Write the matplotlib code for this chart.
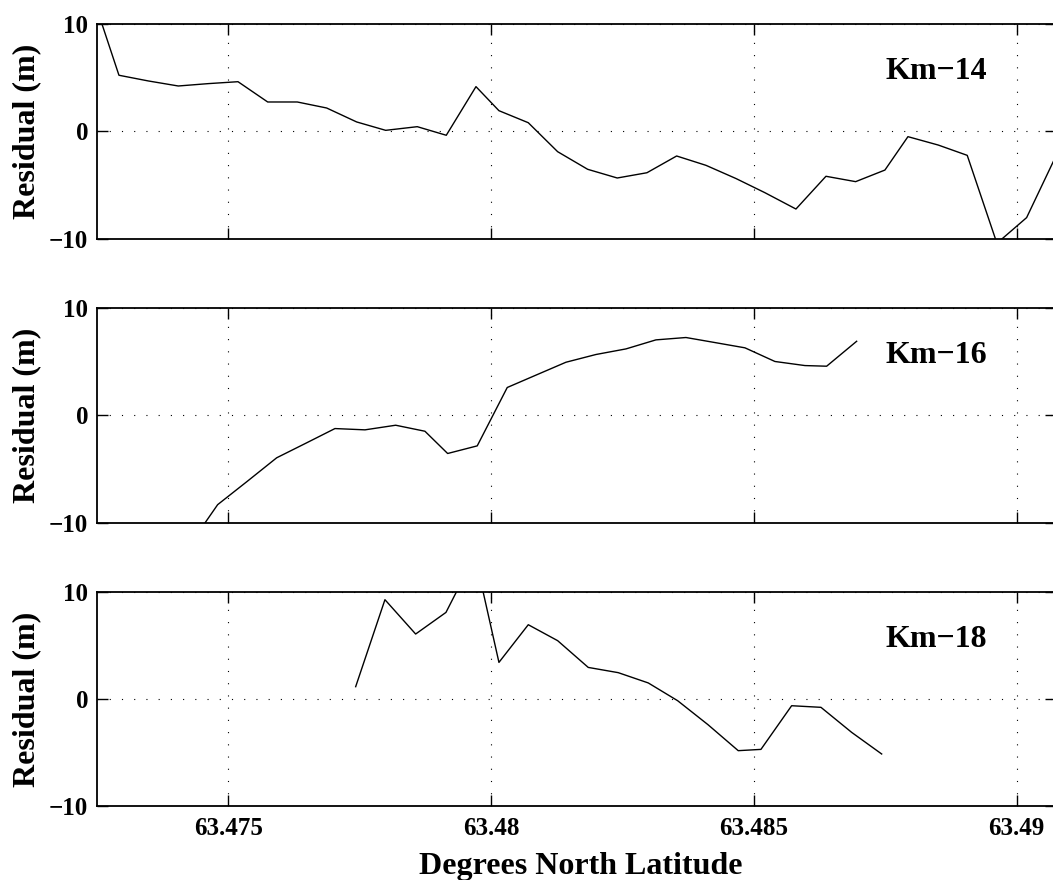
import numpy as np
import matplotlib
matplotlib.use("Agg")
import matplotlib.pyplot as plt

# Residuals along three profiles (latitude in degrees, residual in m)
lat_km14 = [63.472549, 63.472920, 63.473478, 63.474049, 63.474619, 63.475185,
            63.475750, 63.476313, 63.476872, 63.477443, 63.477995, 63.478596,
            63.479148, 63.479713, 63.480150, 63.480708, 63.481267, 63.481838,
            63.482401, 63.482966, 63.483531, 63.484089, 63.484660, 63.485211,
            63.485801, 63.486372, 63.486937, 63.487494, 63.487932, 63.488508,
            63.489060, 63.489625, 63.490190, 63.490748]
res_km14 = [10.7, 5.22, 4.69, 4.22, 4.44, 4.62, 2.73, 2.73, 2.17, 0.87, 0.09,
            0.43, -0.37, 4.16, 1.92, 0.80, -1.90, -3.54, -4.35, -3.86, -2.30,
            -3.17, -4.40, -5.72, -7.24, -4.19, -4.69, -3.61, -0.50, -1.28,
            -2.24, -10.43, -8.04, -2.30]

lat_km16 = [63.474233, 63.474798, 63.475356, 63.475921, 63.476478, 63.477030,
            63.477601, 63.478185, 63.478742, 63.479174, 63.479737, 63.480308,
            63.480868, 63.481425, 63.481996, 63.482567, 63.483137, 63.483708,
            63.484260, 63.484831, 63.485401, 63.485972, 63.486385, 63.486956]
res_km16 = [-12.3, -8.32, -6.17, -3.96, -2.60, -1.24, -1.36, -0.93, -1.49,
            -3.56, -2.85, 2.58, 3.76, 4.93, 5.65, 6.17, 7.01, 7.23, 6.76, 6.27,
            5.00, 4.62, 4.56, 6.88]

lat_km18 = [63.477424, 63.477981, 63.478565, 63.479142, 63.479694, 63.480150,
            63.480708, 63.481267, 63.481849, 63.482420, 63.482991, 63.483550,
            63.484127, 63.484703, 63.485135, 63.485719, 63.486277, 63.486861,
            63.487432]
res_km18 = [1.15, 9.28, 6.07, 8.09, 13.4, 3.42, 6.94, 5.45, 2.95, 2.46, 1.50,
            -0.16, -2.40, -4.83, -4.71, -0.63, -0.78, -3.12, -5.14]

profiles = [(lat_km14, res_km14, "Km\u221214"),
            (lat_km16, res_km16, "Km\u221216"),
            (lat_km18, res_km18, "Km\u221218")]

xticks = [63.475, 63.48, 63.485, 63.49]
xticklabels = ["63.475", "63.48", "63.485", "63.49"]
yticks = [-10, 0, 10]

plt.rcParams['font.family'] = ['Liberation Serif', 'DejaVu Serif']
plt.rcParams['font.weight'] = 'bold'

fig = plt.figure(figsize=(10.53, 8.8), dpi=100)

# axes boxes: [left, bottom, width, height] in figure fractions
boxes = [[0.0918, 0.7288, 0.911, 0.2440],
         [0.0918, 0.4060, 0.911, 0.2443],
         [0.0918, 0.0841, 0.911, 0.2432]]

for i, (lat, res, name) in enumerate(profiles):
    ax = fig.add_axes(boxes[i])
    ax.plot(lat, res, color='black', linewidth=1.0)
    ax.set_xlim(63.472496, 63.490748)
    ax.set_ylim(-10, 10)
    ax.set_xticks(xticks)
    ax.set_yticks(yticks)
    ax.grid(True, color='black', linestyle=(0, (1, 10)), linewidth=0.8)
    ax.tick_params(direction='in', length=8, width=1.0, top=True, right=True,
                   labelsize=18, pad=6)
    ax.tick_params(axis='x', pad=8)
    for s in ax.spines.values():
        s.set_linewidth(1.3)
    if i == 2:
        ax.set_xticklabels(xticklabels)
    else:
        ax.set_xticklabels([])
    ax.set_ylabel("Residual (m)", fontsize=23, fontweight='bold')
    ax.yaxis.set_label_coords(-0.058, 0.5)
    ax.text(0.8225, 0.744, name, transform=ax.transAxes, fontsize=23,
            fontweight='bold', ha='left', va='baseline')

fig.text(0.5518, 0.0065, "Degrees North Latitude", fontsize=23,
         fontweight='bold', ha='center', va='baseline')

fig.savefig("out.png", dpi=100)
